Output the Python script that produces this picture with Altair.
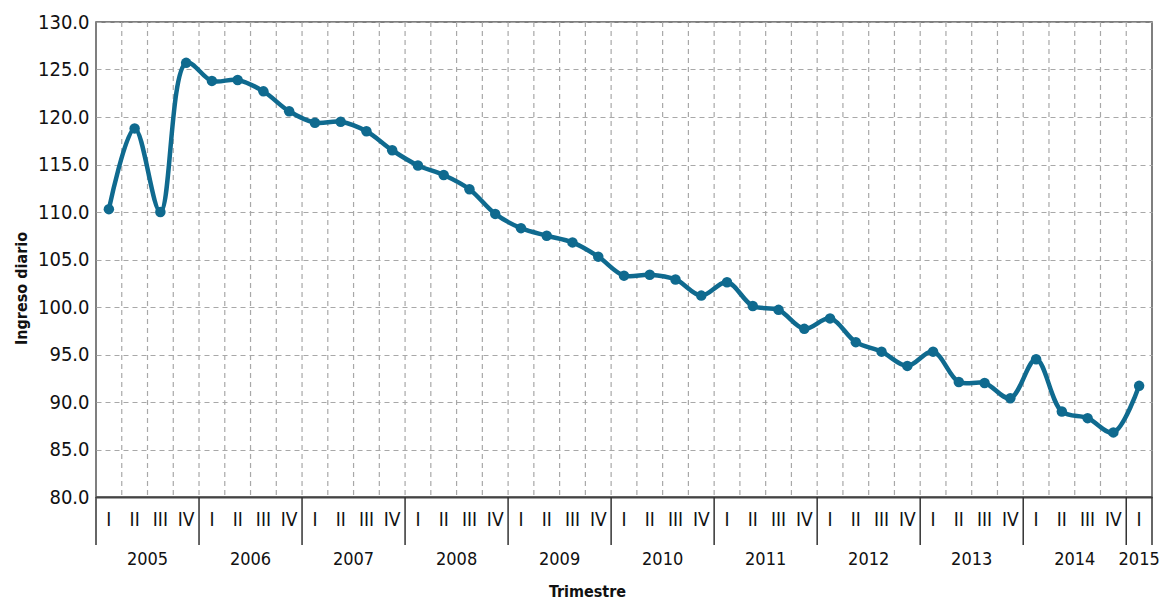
import altair as alt
import pandas as pd

# ---- data ----
year_labels = ["2005", "2006", "2007", "2008", "2009", "2010",
               "2011", "2012", "2013", "2014", "2015"]
quarter_labels = ["I", "II", "III", "IV"]
values = [110.3, 118.8, 110.0, 125.7,
          123.8, 123.9, 122.7, 120.6,
          119.4, 119.5, 118.5, 116.5,
          114.9, 113.9, 112.4, 109.8,
          108.3, 107.5, 106.8, 105.3,
          103.3, 103.4, 102.9, 101.2,
          102.6, 100.1, 99.7, 97.7,
          98.8, 96.3, 95.3, 93.8,
          95.3, 92.1, 92.0, 90.4,
          94.5, 89.0, 88.3, 86.8,
          91.7]
y_ticks = [80, 85, 90, 95, 100, 105, 110, 115, 120, 125, 130]

rows = []
for i, v in enumerate(values):
    rows.append({"idx": i, "v": v,
                 "year": year_labels[i // 4],
                 "q": quarter_labels[i % 4]})
df = pd.DataFrame(rows)

n = len(values)
grid_df = pd.DataFrame({"b": [i + 0.5 for i in range(n - 1)]})
sep_df = pd.DataFrame({"b": [-0.5] + [i + 0.5 for i in range(n) if i % 4 == 3] + [n - 0.5]})

W, H = 1056, 475
FONT = "DejaVu Sans Condensed, sans-serif"
LINE_C = "#0f6a8f"

xs = alt.Scale(domain=[-0.5, n - 0.5], nice=False, zero=False)
ys = alt.Scale(domain=[80, 130], nice=False, zero=False)

X_AX = alt.Axis(title="Trimestre", labels=False, ticks=False, grid=False,
                domain=True, domainColor="#444", domainWidth=2,
                titlePadding=86, titleX=491, titleFont=FONT, titleFontSize=16,
                titleFontWeight="bold", titleColor="#111")
Y_AX = alt.Axis(values=y_ticks, format=".1f", grid=True,
                gridDash=[5, 4], gridColor="#a8a8a8", gridWidth=1.2,
                ticks=False, domain=False, labelPadding=7,
                labelFont=FONT, labelFontSize=20, labelColor="#111",
                title="Ingreso diario", titleFont=FONT, titleFontSize=16,
                titleFontWeight="bold", titleColor="#111", titlePadding=8,
                titleY=266)


def xq(field):
    return alt.X(field, scale=xs, axis=X_AX)


def yq(field):
    return alt.Y(field, scale=ys, axis=Y_AX)


base = alt.Chart(df)

vgrid = alt.Chart(grid_df).mark_rule(
    color="#a8a8a8", strokeDash=[5, 4], strokeWidth=1.2
).encode(x=xq("b:Q"))

line = base.mark_line(
    interpolate="catmull-rom", color=LINE_C, strokeWidth=4.5
).encode(x=xq("idx:Q"), y=yq("v:Q"))

points = base.mark_circle(size=110, color=LINE_C, opacity=1).encode(
    x=xq("idx:Q"), y=yq("v:Q"))

qtext = base.mark_text(font=FONT, fontSize=19, color="#111",
                       baseline="middle").encode(
    x=xq("idx:Q"),
    y=alt.value(H + 23),
    text="q:N",
)

seps = alt.Chart(sep_df).mark_rule(color="#333", strokeWidth=1.5).encode(
    x=xq("b:Q"),
    y=alt.value(H),
    y2=alt.value(H + 48),
)

ytext = base.transform_aggregate(
    c="mean(idx)", groupby=["year"]
).mark_text(font=FONT, fontSize=18, color="#111", baseline="middle").encode(
    x=xq("c:Q"),
    y=alt.value(H + 63),
    text="year:N",
)

chart = alt.layer(vgrid, line, points, qtext, seps, ytext).properties(
    width=W, height=H,
    autosize=alt.AutoSizeParams(type="none"),
    padding={"left": 88, "top": 14, "right": 11, "bottom": 112},
    background="white",
).configure_view(stroke="#555", strokeWidth=1.5)

chart.save("out.html", embed_options={"renderer": "svg", "actions": False})
